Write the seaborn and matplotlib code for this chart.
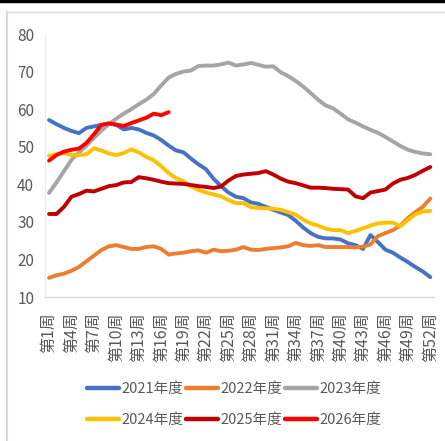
import matplotlib

matplotlib.use("Agg")

import matplotlib.pyplot as plt
import pandas as pd
import seaborn as sns
from matplotlib.lines import Line2D

# weekly values
weeks = list(range(1, 53))

y2021 = [57.1, 56.0, 55.0, 54.2, 53.6, 55.0, 55.4, 55.8, 56.2, 55.8,
         54.6, 55.0, 54.6, 53.7, 53.0, 51.8, 50.3, 49.0, 48.5, 46.8,
         45.3, 44.0, 41.5, 39.5, 37.8, 36.7, 36.3, 35.2, 34.8, 34.0,
         33.2, 32.5, 31.8, 30.3, 28.5, 27.0, 26.0, 25.6, 25.6, 25.3,
         24.3, 23.8, 22.8, 26.5, 24.6, 22.6, 21.8, 20.5, 19.3, 18.0,
         16.8, 15.3]
y2022 = [15.1, 15.8, 16.2, 17.0, 18.0, 19.5, 21.0, 22.5, 23.5, 23.8,
         23.3, 22.8, 22.8, 23.3, 23.5, 22.8, 21.3, 21.6, 21.8, 22.2,
         22.4, 21.8, 22.6, 22.2, 22.3, 22.6, 23.3, 22.6, 22.5, 22.8,
         23.0, 23.2, 23.5, 24.4, 23.8, 23.6, 23.8, 23.3, 23.3, 23.3,
         23.3, 23.2, 23.4, 24.0, 26.2, 27.0, 27.8, 29.0, 31.0, 32.6,
         34.0, 36.2]
y2023 = [37.7, 40.5, 43.5, 46.5, 48.5, 50.3, 52.3, 54.3, 56.0, 57.5,
         58.8, 60.0, 61.3, 62.5, 64.0, 66.3, 68.4, 69.4, 70.0, 70.3,
         71.5, 71.6, 71.6, 71.9, 72.4, 71.6, 71.9, 72.3, 71.8, 71.3,
         71.4, 69.8, 68.8, 67.5, 66.0, 64.3, 62.5, 61.0, 60.2, 58.8,
         57.3, 56.4, 55.4, 54.5, 53.7, 52.6, 51.4, 50.2, 49.2, 48.6,
         48.2, 48.0]
y2024 = [47.6, 48.0, 48.3, 47.8, 47.8, 48.0, 49.6, 49.0, 48.2, 47.8,
         48.3, 49.3, 48.5, 47.3, 46.4, 44.8, 43.0, 41.6, 40.8, 39.5,
         38.5, 37.8, 37.3, 36.8, 35.8, 35.0, 35.0, 33.9, 33.7, 33.6,
         33.5, 33.2, 32.6, 31.9, 30.6, 29.6, 29.0, 28.2, 27.8, 27.8,
         27.0, 27.6, 28.3, 29.0, 29.6, 29.8, 29.8, 28.8, 30.5, 32.0,
         32.8, 32.9]
y2025 = [32.1, 32.1, 34.0, 36.7, 37.4, 38.3, 38.1, 38.8, 39.5, 39.8,
         40.5, 40.6, 41.9, 41.6, 41.2, 40.7, 40.3, 40.2, 40.1, 39.8,
         39.5, 39.3, 39.0, 39.4, 41.0, 42.2, 42.6, 42.8, 43.0, 43.5,
         42.6, 41.5, 40.7, 40.3, 39.7, 39.1, 39.1, 39.0, 38.8, 38.7,
         38.6, 36.8, 36.3, 37.8, 38.2, 38.6, 40.2, 41.2, 41.7, 42.5,
         43.6, 44.6]
y2026 = [46.3, 47.8, 48.7, 49.2, 49.5, 51.0, 53.3, 55.8, 56.2, 55.9,
         55.5, 56.3, 57.0, 57.7, 58.8, 58.4, 59.2]

series_names = ["2021年度", "2022年度", "2023年度", "2024年度", "2025年度", "2026年度"]
series_values = [y2021, y2022, y2023, y2024, y2025, y2026]
colors = ["#4472C4", "#ED7D31", "#A5A5A5", "#FFC000", "#C00000", "#FF0000"]

tick_weeks = list(range(1, 53, 3))
tick_labels = [f"第{w}周" for w in tick_weeks]

TEXT_GREY = "#595959"
AXIS_GREY = "#D9D9D9"

frames = []
for name, vals in zip(series_names, series_values):
    frames.append(pd.DataFrame({"week": weeks[:len(vals)], "value": vals, "year": name}))
df = pd.concat(frames, ignore_index=True)

sns.set_theme(style="white")
plt.rcParams["font.family"] = ["Noto Sans CJK SC", "DejaVu Sans"]

fig = plt.figure(figsize=(4.45, 4.41), dpi=100)
ax = fig.add_axes([0.1018, 0.3265, 0.9753 - 0.1018, 0.9229 - 0.3265])

sns.lineplot(data=df, x="week", y="value", hue="year", hue_order=series_names,
             palette=dict(zip(series_names, colors)), linewidth=2.8,
             legend=False, ax=ax)

ax.set_xlim(0.5, 52.5)
ax.set_ylim(10, 80)
ax.set_yticks(range(10, 81, 10))
ax.set_xticks(tick_weeks)
ax.set_xticklabels(tick_labels, rotation=90, ha="center", va="top")
ax.set_xlabel("")
ax.set_ylabel("")
ax.tick_params(axis="y", length=0, pad=8, labelsize=11, labelcolor=TEXT_GREY)
ax.tick_params(axis="x", length=0, pad=11, labelsize=11.5, labelcolor=TEXT_GREY)

for side in ("top", "right"):
    ax.spines[side].set_visible(False)
ax.spines["left"].set_color("#EBEBEB")
ax.spines["left"].set_linewidth(0.8)
ax.spines["bottom"].set_color(AXIS_GREY)
ax.spines["bottom"].set_linewidth(1.0)

# legend laid out row by row, three per row
handles = [Line2D([], [], color=c, linewidth=3.2) for c in colors]
order = [0, 3, 1, 4, 2, 5]
fig.legend([handles[i] for i in order], [series_names[i] for i in order],
           loc="center", bbox_to_anchor=(0.526, 0.083), ncol=3, frameon=False,
           fontsize=10.5, labelcolor=TEXT_GREY, handlelength=2.2,
           handletextpad=0.2, columnspacing=0.15, labelspacing=1.15)

# chart frame from the screenshot
fig.add_artist(Line2D([0, 1], [0.998, 0.998], color="black", linewidth=2.5,
                      transform=fig.transFigure))
fig.add_artist(Line2D([7 / 445, 7 / 445], [0, 1 - 12 / 441], color=AXIS_GREY,
                      linewidth=1.5, transform=fig.transFigure))
fig.add_artist(Line2D([7 / 445, 1], [1 - 12 / 441, 1 - 12 / 441], color=AXIS_GREY,
                      linewidth=1.0, transform=fig.transFigure))

fig.savefig("out.png", dpi=100)
plt.close(fig)
